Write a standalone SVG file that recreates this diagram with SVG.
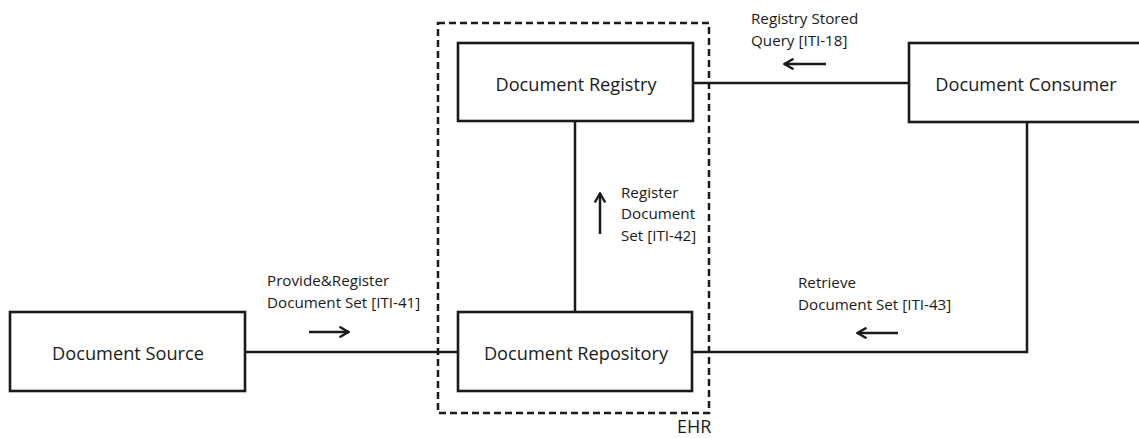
<svg xmlns="http://www.w3.org/2000/svg" width="1139" height="438" viewBox="0 0 1139 438">
<defs>
<style>
.box{fill:#fff;stroke:#1a1a1a;stroke-width:2.6}
.ln{fill:none;stroke:#1a1a1a;stroke-width:2.5}
.ar{fill:none;stroke:#1a1a1a;stroke-width:2.5}
.nt{font-family:"Open Sans","Liberation Sans",sans-serif;font-size:18.2px;fill:#1a1a1a;text-anchor:middle}
.lb{font-family:"Open Sans","Liberation Sans",sans-serif;font-size:15.2px;fill:#1a1a1a}
</style>
<marker id="ah" viewBox="0 0 12 12" refX="11" refY="6" markerWidth="12" markerHeight="12" markerUnits="userSpaceOnUse" orient="auto">
<polyline points="1.5,0.8 10.5,6 1.5,11.2" fill="none" stroke="#1a1a1a" stroke-width="2.4"/>
</marker>
</defs>
<rect width="1139" height="438" fill="#fff"/>
<g id="ehr">
<rect x="438" y="23" width="271" height="390" fill="none" stroke="#1a1a1a" stroke-width="2.5" stroke-dasharray="7,4"/>
<text class="lb" x="677" y="433" style="font-size:18px">EHR</text>
</g>
<g id="connectors">
<line class="ln" x1="693" y1="83" x2="909" y2="83"/>
<line class="ln" x1="575" y1="121" x2="575" y2="312"/>
<line class="ln" x1="245" y1="352" x2="458" y2="352"/>
<polyline class="ln" points="692,352 1027,352 1027,122"/>
<line class="ar" x1="826" y1="64" x2="784" y2="64" marker-end="url(#ah)"/>
<line class="ar" x1="600" y1="234" x2="600" y2="193" marker-end="url(#ah)"/>
<line class="ar" x1="309" y1="332" x2="349" y2="332" marker-end="url(#ah)"/>
<line class="ar" x1="898" y1="333" x2="857" y2="333" marker-end="url(#ah)"/>
<text class="lb" x="751" y="24">Registry Stored</text>
<text class="lb" x="751" y="46">Query [ITI-18]</text>
<text class="lb" x="621" y="198">Register</text>
<text class="lb" x="621" y="219">Document</text>
<text class="lb" x="621" y="241">Set [ITI-42]</text>
<text class="lb" x="267" y="286">Provide&amp;Register</text>
<text class="lb" x="267" y="308">Document Set [ITI-41]</text>
<text class="lb" x="798" y="288">Retrieve</text>
<text class="lb" x="798" y="310">Document Set [ITI-43]</text>
</g>
<g id="registry">
<rect class="box" x="458" y="43" width="235" height="78"/>
<text class="nt" x="576" y="91">Document Registry</text>
</g>
<g id="consumer">
<rect class="box" x="909" y="43" width="240" height="79"/>
<text class="nt" x="1026" y="91">Document Consumer</text>
</g>
<g id="repository">
<rect class="box" x="458" y="312" width="234" height="79"/>
<text class="nt" x="576" y="360">Document Repository</text>
</g>
<g id="source">
<rect class="box" x="10" y="312" width="235" height="79"/>
<text class="nt" x="128" y="360">Document Source</text>
</g>
</svg>
